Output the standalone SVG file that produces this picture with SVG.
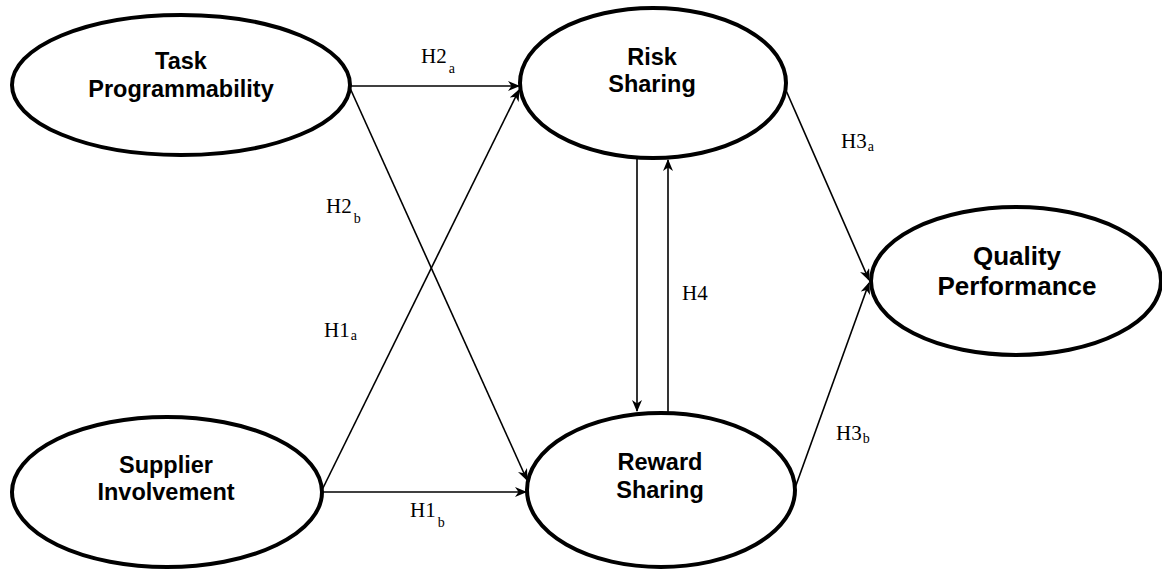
<svg xmlns="http://www.w3.org/2000/svg" width="1162" height="570" viewBox="0 0 1162 570">
<style>
.node ellipse{fill:#fff;stroke:#000;stroke-width:4}
.nt{font-family:"Liberation Sans",Arial,sans-serif;font-weight:bold;font-size:23.5px;text-anchor:middle;fill:#000}
.big{font-size:26px}
.edge{stroke:#000;stroke-width:1.6;fill:none;marker-end:url(#arr)}
.lbl{font-family:"Liberation Serif","Times New Roman",serif;font-size:21px;fill:#000}
.sub{font-size:14px}
</style>
<defs>
<marker id="arr" markerUnits="userSpaceOnUse" viewBox="0 0 12 10" markerWidth="12" markerHeight="10" refX="11" refY="5" orient="auto">
<path d="M0,0 L12,5 L0,10 L3.5,5 z" fill="#000"/>
</marker>
</defs>
<rect width="1162" height="570" fill="#fff"/>
<g id="connectors">
<line class="edge" x1="350" y1="86" x2="519" y2="86"/>
<line class="edge" x1="350" y1="88" x2="527" y2="480"/>
<line class="edge" x1="322" y1="490" x2="519" y2="90"/>
<line class="edge" x1="322" y1="492" x2="526" y2="492"/>
<line class="edge" x1="785" y1="88" x2="869" y2="280"/>
<line class="edge" x1="795" y1="488" x2="869" y2="283"/>
<line class="edge" x1="637" y1="158" x2="637" y2="411"/>
<line class="edge" x1="668" y1="413" x2="668" y2="160"/>
</g>
<g id="labels">
<text class="lbl" x="421" y="63">H2<tspan class="sub" dx="2" dy="10">a</tspan></text>
<text class="lbl" x="326" y="213">H2<tspan class="sub" dx="2" dy="10">b</tspan></text>
<text class="lbl" x="324" y="337">H1<tspan class="sub" dx="1" dy="3">a</tspan></text>
<text class="lbl" x="410" y="517">H1<tspan class="sub" dx="2" dy="10">b</tspan></text>
<text class="lbl" x="841" y="148">H3<tspan class="sub" dx="1" dy="3">a</tspan></text>
<text class="lbl" x="836" y="440">H3<tspan class="sub" dx="1" dy="3">b</tspan></text>
<text class="lbl" x="682" y="300">H4</text>
</g>
<g id="task" class="node">
<ellipse cx="181" cy="85" rx="169" ry="70"/>
<text class="nt" x="181" y="69">Task</text>
<text class="nt" x="181" y="97">Programmability</text>
</g>
<g id="risk" class="node">
<ellipse cx="653" cy="83" rx="133" ry="75"/>
<text class="nt" x="652" y="65">Risk</text>
<text class="nt" x="652" y="92">Sharing</text>
</g>
<g id="supplier" class="node">
<ellipse cx="167" cy="492" rx="155" ry="75"/>
<text class="nt" x="166" y="473">Supplier</text>
<text class="nt" x="166" y="500">Involvement</text>
</g>
<g id="reward" class="node">
<ellipse cx="661" cy="490" rx="134" ry="77"/>
<text class="nt" x="660" y="470">Reward</text>
<text class="nt" x="660" y="498">Sharing</text>
</g>
<g id="quality" class="node">
<ellipse cx="1016" cy="281" rx="145" ry="74"/>
<text class="nt big" x="1017" y="265">Quality</text>
<text class="nt big" x="1017" y="295">Performance</text>
</g>
</svg>
